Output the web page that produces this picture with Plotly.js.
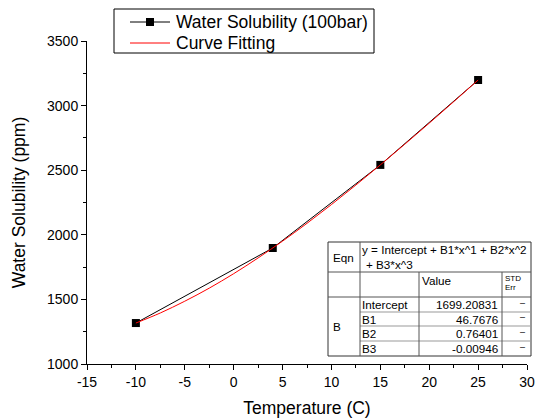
<!DOCTYPE html>
<html>
<head>
<meta charset="utf-8">
<script src="https://cdn.plot.ly/plotly-3.0.1.min.js"></script>
<style>
html,body{margin:0;padding:0;background:#fff;}
#chart{width:543px;height:418px;}
</style>
</head>
<body>
<div id="chart"></div>
<script>
// Measured data
var temperature = [-10, 4, 15, 25];
var solubility = [1317, 1898, 2541, 3198];

// Fitted curve
var fitX = [-10, -7.5, -5, -2.5, 0, 2.5, 5, 7.5, 10, 12.5, 15, 17.5, 20, 22.5, 25];
var fitY = [1317, 1395, 1486, 1587, 1699, 1821, 1951, 2089, 2234, 2385, 2541, 2701, 2864, 3030, 3198];

// Series names
var seriesNames = ["Water Solubility (100bar)", "Curve Fitting"];

// Tick labels
var xTickVals = [-15, -10, -5, 0, 5, 10, 15, 20, 25, 30];
var xTickText = ["-15", "-10", "-5", "0", "5", "10", "15", "20", "25", "30"];
var yTickVals = [1000, 1500, 2000, 2500, 3000, 3500];
var yTickText = ["1000", "1500", "2000", "2500", "3000", "3500"];

// Fit parameter table
var paramNames = ["Intercept", "B1", "B2", "B3"];
var paramValues = ["1699.20831", "46.7676", "0.76401", "-0.00946"];
var paramErrors = ["\u2013", "\u2013", "\u2013", "\u2013"];

var FONT = "Liberation Sans, Arial, sans-serif";

// plot area in pixels
var L = 87, R = 527, T = 41, B = 364;
function px(X){ return (X - L) / (R - L); }
function py(Y){ return (B - Y) / (B - T); }

var shapes = [];
var annotations = [];
function line(x0, y0, x1, y1, color){
  shapes.push({type:'line', xref:'paper', yref:'paper', x0:px(x0), y0:py(y0), x1:px(x1), y1:py(y1),
    line:{color:color, width:1}});
}
function text(t, X, Y, anchor, size){
  annotations.push({text:t, xref:'paper', yref:'paper', x:px(X), y:py(Y), xanchor:anchor, yanchor:'middle',
    showarrow:false, borderpad:0, font:{family:FONT, size:size, color:'#000'}});
}

// ---- legend box (drawn as decoration) ----
var lg = {x0:114, y0:9, x1:374, y1:53, row1:22, row2:43, s0:130, s1:170, tx:175};
shapes.push({type:'rect', xref:'paper', yref:'paper', x0:px(lg.x0), y0:py(lg.y0), x1:px(lg.x1), y1:py(lg.y1),
  fillcolor:'#ffffff', line:{color:'#000', width:1}});
line(lg.s0, lg.row1, lg.s1, lg.row1, '#000');
shapes.push({type:'rect', xref:'paper', yref:'paper', x0:px((lg.s0+lg.s1)/2 - 4), x1:px((lg.s0+lg.s1)/2 + 4),
  y0:py(lg.row1 - 4), y1:py(lg.row1 + 4), fillcolor:'#000', line:{color:'#000', width:0}});
line(lg.s0, lg.row2, lg.s1, lg.row2, '#ff0000');
text(seriesNames[0], lg.tx, lg.row1, 'left', 17.5);
text(seriesNames[1], lg.tx, lg.row2, 'left', 17.5);

// ---- fit table ----
var cx = [328, 360, 419, 502, 531];
var ry = [242, 272, 297, 312, 326, 341, 356];

shapes.push({type:'rect', xref:'paper', yref:'paper', x0:px(cx[0]), y0:py(ry[0]), x1:px(cx[4]), y1:py(ry[6]),
  fillcolor:'#ffffff', line:{color:'#333', width:1}});
line(cx[0], ry[1], cx[4], ry[1], '#555');
line(cx[0], ry[2], cx[4], ry[2], '#555');
for (var i = 3; i <= 5; i++) line(cx[1], ry[i], cx[4], ry[i], '#999');
line(cx[1], ry[0], cx[1], ry[6], '#555');
line(cx[2], ry[1], cx[2], ry[6], '#555');
line(cx[3], ry[1], cx[3], ry[6], '#555');

var TF = 11.7;
text('Eqn', cx[0] + 4, (ry[0] + ry[1]) / 2, 'left', TF);
text('y = Intercept + B1*x^1 + B2*x^2', cx[1] + 1, ry[0] + 8, 'left', TF);
text('+ B3*x^3', cx[1] + 5, ry[0] + 22, 'left', TF);
text('Value', cx[2] + 2, ry[1] + 8, 'left', TF);
text('STD', cx[3] + 2, ry[1] + 6, 'left', 8);
text('Err', cx[3] + 2, ry[1] + 15, 'left', 8);
text('B', cx[0] + 4, (ry[2] + ry[6]) / 2, 'left', TF);
for (var k = 0; k < paramNames.length; k++) {
  var yc = (ry[2 + k] + ry[3 + k]) / 2;
  text(paramNames[k], cx[1] + 1, yc, 'left', TF);
  text(paramValues[k], cx[3] - 3, yc, 'right', TF);
  text(paramErrors[k], cx[4] - 5, yc - 2, 'right', 9);
}

var traces = [
  {x: temperature, y: solubility, type:'scatter', mode:'lines+markers', name:seriesNames[0],
   line:{color:'#000', width:1}, marker:{symbol:'square', size:8, color:'#000'}},
  {x: fitX, y: fitY, type:'scatter', mode:'lines', name:seriesNames[1],
   line:{color:'#ff0000', width:1, shape:'spline'}}
];

var axisCommon = {
  showline:true, linecolor:'#000', linewidth:1, mirror:false, showgrid:false, zeroline:false,
  ticks:'outside', ticklen:5, tickcolor:'#000', tickwidth:1, tickmode:'array',
  tickfont:{family:FONT, size:14, color:'#000'}
};

var layout = {
  width:543, height:418,
  margin:{l:L, r:543 - R, t:T, b:418 - B},
  paper_bgcolor:'#fff', plot_bgcolor:'#fff',
  showlegend:false,
  xaxis:Object.assign({}, axisCommon, {range:[-15, 30], tickvals:xTickVals, ticktext:xTickText,
    minor:{tickmode:'linear', tick0:-15, dtick:2.5, ticks:'outside', ticklen:3, tickcolor:'#000'},
    title:{text:'Temperature (C)', font:{family:FONT, size:17.5, color:'#000'}, standoff:12}}),
  yaxis:Object.assign({}, axisCommon, {range:[1000, 3500], tickvals:yTickVals, ticktext:yTickText,
    minor:{tickmode:'linear', tick0:1000, dtick:250, ticks:'outside', ticklen:3, tickcolor:'#000'},
    title:{text:'Water Solubility (ppm)', font:{family:FONT, size:17.5, color:'#000'}, standoff:16}}),
  shapes:shapes,
  annotations:annotations
};

Plotly.newPlot('chart', traces, layout, {staticPlot:true, displayModeBar:false});
</script>
</body>
</html>
